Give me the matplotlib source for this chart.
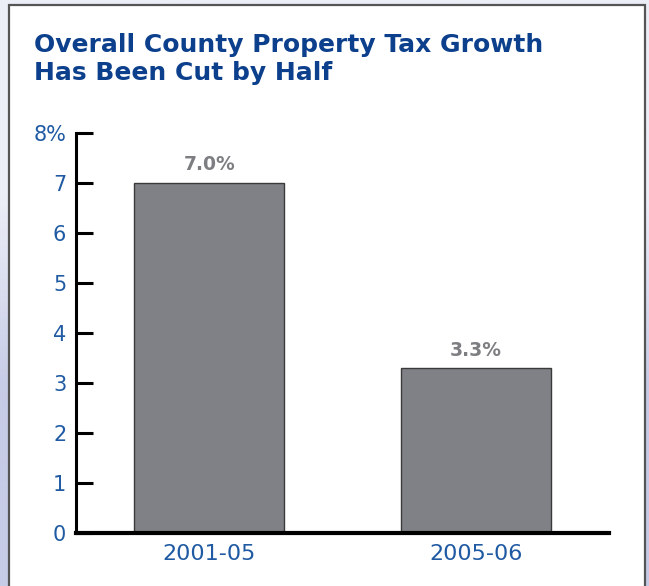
import matplotlib.pyplot as plt
import numpy as np
from matplotlib.patches import Rectangle

periods = ["2001-05", "2005-06"]
growth = [7.0, 3.3]
yticks = [0, 1, 2, 3, 4, 5, 6, 7, 8]
ytick_labels = ["0", "1", "2", "3", "4", "5", "6", "7", "8%"]

title_blue = "#0c3f8c"
label_blue = "#1f5aa3"
bar_gray = "#808186"

fig = plt.figure(figsize=(6.49, 5.86), dpi=100)
fig.patch.set_facecolor("#e9ecf5")

# soft lavender backdrop, darker toward the lower left
bg = fig.add_axes([0, 0, 1, 1], zorder=-3)
grad = np.linspace(0, 1, 256)[:, None] * np.ones((1, 2))
bg.imshow(grad, cmap=plt.matplotlib.colors.LinearSegmentedColormap.from_list(
    "bk", ["#c6cbe6", "#c6cbe6", "#eceef7", "#eceef7"]),
    aspect="auto", extent=[0, 1, 0, 1], origin="lower")
bg.set_xlim(0, 1)
bg.set_ylim(0, 1)
bg.axis("off")

# white panel with grey frame
panel = Rectangle((9 / 649, -0.05), (645 - 9) / 649, 1 - 5 / 586 + 0.05,
                  transform=fig.transFigure, facecolor="white",
                  edgecolor="#555555", linewidth=1.6, zorder=-2)
fig.patches.append(panel)

fig.text(34 / 649, 1 - 33 / 586, "Overall County Property Tax Growth\nHas Been Cut by Half",
         color=title_blue, fontsize=18, fontweight="heavy", va="top", ha="left",
         linespacing=1.2)

ax = fig.add_axes([76 / 649, 1 - 533 / 586, (609 - 76) / 649, 400 / 586])
ax.patch.set_alpha(0)
x = np.arange(len(periods))
bars = ax.bar(x, growth, width=150 / 266, color=bar_gray, edgecolor="#3a3a3a",
              linewidth=1.0)
for xi, v in zip(x, growth):
    ax.text(xi, v + 0.36, f"{v:.1f}%", ha="center", va="center",
            fontsize=13.5, fontweight="bold", color="#7d7e82")

ax.set_xlim(-0.5, 1.5)
ax.set_ylim(0, 8)
ax.set_yticks(yticks)
ax.set_yticklabels(ytick_labels)
ax.set_xticks(x)
ax.set_xticklabels(periods)

for s in ["top", "right"]:
    ax.spines[s].set_visible(False)
ax.spines["left"].set_linewidth(2.2)
ax.spines["bottom"].set_linewidth(3)
ax.spines["left"].set_color("black")
ax.spines["bottom"].set_color("black")

ax.tick_params(axis="y", direction="in", length=12, width=2.2, pad=7,
               labelsize=15, labelcolor=label_blue)
ax.tick_params(axis="x", length=0, pad=8, labelsize=16, labelcolor=label_blue)

fig.savefig("out.png", dpi=100, facecolor=fig.get_facecolor())
